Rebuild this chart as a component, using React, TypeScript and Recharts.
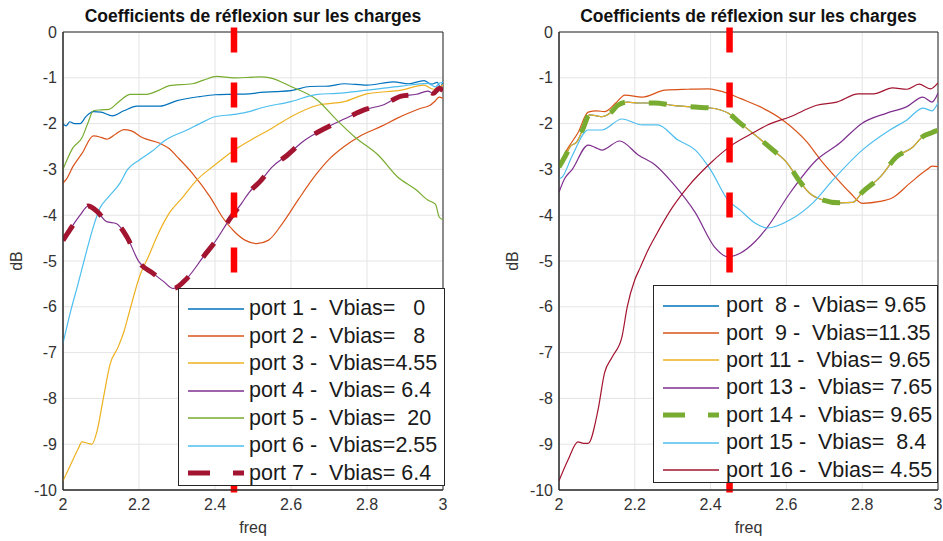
import { CartesianGrid, Label, Line, LineChart, ReferenceArea, ReferenceLine, XAxis, YAxis } from "recharts";

type Pt = [number, number];

const freqTicks = [2, 2.2, 2.4, 2.6, 2.8, 3];
const dbTicks = [-10, -9, -8, -7, -6, -5, -4, -3, -2, -1, 0];
const markerFreq = 2.45;
const titleText = "Coefficients de réflexion sur les charges";

// left panel, ports 1..7 (freq GHz, dB)
const port1: Pt[] = [
  [2.0, -2.0], [2.008, -2.05], [2.018, -1.96], [2.03, -2.0], [2.045, -2.0], [2.06, -1.85],
  [2.08, -1.74], [2.1, -1.75], [2.13, -1.83], [2.16, -1.72], [2.195, -1.62], [2.225, -1.62],
  [2.255, -1.62], [2.3, -1.5], [2.36, -1.41], [2.4, -1.37], [2.448, -1.36], [2.49, -1.35],
  [2.52, -1.32], [2.56, -1.3], [2.6, -1.28], [2.65, -1.19], [2.7, -1.18], [2.74, -1.13],
  [2.8, -1.16], [2.87, -1.09], [2.91, -1.13], [2.95, -1.06], [2.97, -1.14], [2.985, -1.1],
  [2.993, -1.2], [3.0, -1.08],
];
const port2: Pt[] = [
  [2.0, -3.3], [2.01, -3.2], [2.026, -2.94], [2.05, -2.65], [2.08, -2.27], [2.1, -2.3],
  [2.115, -2.34], [2.14, -2.22], [2.16, -2.13], [2.18, -2.16], [2.21, -2.31], [2.255, -2.43],
  [2.28, -2.55], [2.3, -2.72], [2.34, -3.08], [2.387, -3.6], [2.42, -4.05], [2.45, -4.35],
  [2.48, -4.55], [2.51, -4.62], [2.54, -4.55], [2.58, -4.15], [2.62, -3.65], [2.667, -3.1],
  [2.7, -2.78], [2.74, -2.5], [2.78, -2.28], [2.84, -2.05], [2.88, -1.88], [2.91, -1.77],
  [2.94, -1.67], [2.966, -1.6], [2.98, -1.5], [2.99, -1.42], [3.0, -1.45],
];
const port3: Pt[] = [
  [2.0, -9.8], [2.02, -9.45], [2.04, -9.1], [2.05, -8.95], [2.065, -8.98], [2.076, -9.0],
  [2.09, -8.7], [2.105, -8.05], [2.124, -7.25], [2.145, -6.88], [2.16, -6.55], [2.176, -6.07],
  [2.203, -5.3], [2.225, -4.9], [2.247, -4.47], [2.28, -3.95], [2.316, -3.6], [2.35, -3.25],
  [2.4, -2.9], [2.45, -2.58], [2.5, -2.33], [2.55, -2.1], [2.6, -1.85], [2.67, -1.6],
  [2.74, -1.52], [2.8, -1.35], [2.89, -1.27], [2.95, -1.16], [2.975, -1.25], [3.0, -1.15],
];
const port4: Pt[] = [
  [2.0, -4.55], [2.018, -4.32], [2.045, -4.0], [2.066, -3.8], [2.09, -3.92], [2.115, -4.14],
  [2.14, -4.18], [2.168, -4.47], [2.2, -5.02], [2.237, -5.27], [2.265, -5.45], [2.29, -5.6],
  [2.326, -5.38], [2.37, -4.9], [2.4, -4.58], [2.44, -4.07], [2.47, -3.74], [2.49, -3.5],
  [2.52, -3.25], [2.55, -2.95], [2.59, -2.69], [2.63, -2.4], [2.69, -2.1], [2.74, -1.9],
  [2.8, -1.68], [2.84, -1.6], [2.89, -1.4], [2.93, -1.36], [2.96, -1.29], [2.975, -1.34],
  [2.99, -1.23], [3.0, -1.28],
];
const port5: Pt[] = [
  [2.0, -3.0], [2.01, -2.8], [2.026, -2.53], [2.05, -2.31], [2.065, -2.0], [2.08, -1.72],
  [2.1, -1.7], [2.12, -1.69], [2.15, -1.5], [2.177, -1.36], [2.22, -1.36], [2.25, -1.28],
  [2.28, -1.17], [2.34, -1.13], [2.37, -1.05], [2.405, -0.97], [2.45, -1.0], [2.49, -0.99],
  [2.52, -0.98], [2.545, -1.0], [2.6, -1.19], [2.67, -1.49], [2.72, -1.92], [2.77, -2.31],
  [2.83, -2.69], [2.88, -3.16], [2.93, -3.45], [2.96, -3.67], [2.98, -3.76], [2.99, -4.04],
  [3.0, -4.1],
];
const port6: Pt[] = [
  [2.0, -6.8], [2.02, -6.1], [2.04, -5.49], [2.06, -4.85], [2.08, -4.25], [2.097, -3.85],
  [2.12, -3.6], [2.15, -3.3], [2.17, -3.0], [2.2, -2.8], [2.235, -2.6], [2.27, -2.36],
  [2.326, -2.14], [2.36, -2.0], [2.4, -1.85], [2.45, -1.8], [2.49, -1.74], [2.52, -1.66],
  [2.6, -1.52], [2.67, -1.36], [2.72, -1.34], [2.8, -1.27], [2.89, -1.18], [2.96, -1.12],
  [2.98, -1.2], [2.99, -1.12], [3.0, -1.1],
];
const port7 = port4;

// right panel, ports 8..16
const port8: Pt[] = [
  [2.0, -2.95], [2.016, -2.72], [2.03, -2.5], [2.047, -2.4], [2.064, -2.1], [2.08, -1.81],
  [2.1, -1.83], [2.113, -1.85], [2.135, -1.77], [2.155, -1.6], [2.18, -1.53], [2.21, -1.55],
  [2.253, -1.55], [2.3, -1.6], [2.36, -1.64], [2.4, -1.66], [2.446, -1.77], [2.478, -1.99],
  [2.51, -2.2], [2.565, -2.58], [2.6, -2.84], [2.636, -3.27], [2.66, -3.51], [2.697, -3.67],
  [2.74, -3.73], [2.775, -3.72], [2.8, -3.5], [2.847, -3.17], [2.89, -2.73], [2.934, -2.51],
  [2.96, -2.28], [2.98, -2.21], [3.0, -2.14],
];
const port9: Pt[] = [
  [2.0, -2.9], [2.024, -2.53], [2.05, -2.2], [2.077, -1.75], [2.1, -1.72], [2.12, -1.74],
  [2.15, -1.55], [2.174, -1.38], [2.22, -1.42], [2.28, -1.27], [2.34, -1.25], [2.393, -1.24],
  [2.446, -1.34], [2.478, -1.45], [2.53, -1.63], [2.59, -1.92], [2.654, -2.4], [2.69, -2.79],
  [2.72, -3.08], [2.768, -3.51], [2.8, -3.74], [2.847, -3.7], [2.88, -3.62], [2.926, -3.3],
  [2.97, -3.01], [2.985, -2.93], [3.0, -2.94],
];
const port11 = port8;
const port13: Pt[] = [
  [2.0, -3.5], [2.015, -3.2], [2.034, -3.01], [2.077, -2.47], [2.095, -2.52], [2.113, -2.58],
  [2.16, -2.38], [2.21, -2.69], [2.253, -2.9], [2.3, -3.3], [2.36, -3.95], [2.41, -4.69],
  [2.446, -4.91], [2.478, -4.83], [2.517, -4.58], [2.55, -4.26], [2.61, -3.51], [2.68, -2.79],
  [2.74, -2.43], [2.8, -1.99], [2.865, -1.77], [2.918, -1.63], [2.96, -1.42], [2.984, -1.53],
  [3.0, -1.34],
];
const port14 = port8;
const port15: Pt[] = [
  [2.0, -3.2], [2.008, -3.17], [2.034, -2.72], [2.077, -2.14], [2.113, -2.14], [2.166, -1.9],
  [2.22, -2.03], [2.26, -2.03], [2.314, -2.36], [2.36, -2.58], [2.4, -3.01], [2.446, -3.67],
  [2.478, -3.89], [2.517, -4.17], [2.55, -4.28], [2.61, -4.1], [2.67, -3.73], [2.723, -3.23],
  [2.8, -2.58], [2.873, -2.14], [2.918, -1.92], [2.96, -1.66], [2.984, -1.72], [3.0, -1.55],
];
const port16: Pt[] = [
  [2.0, -9.8], [2.024, -9.34], [2.05, -8.95], [2.065, -8.98], [2.077, -8.98], [2.103, -8.25],
  [2.12, -7.45], [2.14, -7.1], [2.166, -6.66], [2.18, -6.0], [2.2, -5.41], [2.214, -5.15],
  [2.235, -4.76], [2.253, -4.48], [2.3, -3.82], [2.34, -3.38], [2.4, -2.86], [2.456, -2.47],
  [2.517, -2.18], [2.55, -2.03], [2.61, -1.85], [2.68, -1.6], [2.733, -1.53], [2.79, -1.35],
  [2.83, -1.35], [2.88, -1.22], [2.918, -1.25], [2.95, -1.14], [2.98, -1.24], [3.0, -1.11],
];

const leftLabels = [
  "port 1 -  Vbias=   0",
  "port 2 -  Vbias=   8",
  "port 3 -  Vbias=4.55",
  "port 4 -  Vbias= 6.4",
  "port 5 -  Vbias=  20",
  "port 6 -  Vbias=2.55",
  "port 7 -  Vbias= 6.4",
];
const rightLabels = [
  "port  8 -  Vbias= 9.65",
  "port  9 -  Vbias=11.35",
  "port 11 -  Vbias= 9.65",
  "port 13 -  Vbias= 7.65",
  "port 14 -  Vbias= 9.65",
  "port 15 -  Vbias=  8.4",
  "port 16 -  Vbias= 4.55",
];

const FONT = "'Liberation Sans', Arial, Helvetica, sans-serif";
const INK = "#262626";

interface Series {
  label: string;
  pts: Pt[];
  color: string;
  width: number;
  dash?: string;
}

const leftSeries: Series[] = [
  { label: leftLabels[0], pts: port1, color: "#0072BD", width: 1.2 },
  { label: leftLabels[1], pts: port2, color: "#D95319", width: 1.2 },
  { label: leftLabels[2], pts: port3, color: "#EDB120", width: 1.2 },
  { label: leftLabels[3], pts: port4, color: "#7E2F8E", width: 1.2 },
  { label: leftLabels[4], pts: port5, color: "#77AC30", width: 1.2 },
  { label: leftLabels[5], pts: port6, color: "#4DBEEE", width: 1.2 },
  { label: leftLabels[6], pts: port7, color: "#A2142F", width: 5, dash: "18 24" },
];

const rightSeries: Series[] = [
  { label: rightLabels[0], pts: port8, color: "#0072BD", width: 1.2 },
  { label: rightLabels[1], pts: port9, color: "#D95319", width: 1.2 },
  { label: rightLabels[2], pts: port11, color: "#EDB120", width: 1.2 },
  { label: rightLabels[3], pts: port13, color: "#7E2F8E", width: 1.2 },
  { label: rightLabels[4], pts: port14, color: "#77AC30", width: 5, dash: "18 24" },
  { label: rightLabels[5], pts: port15, color: "#4DBEEE", width: 1.2 },
  { label: rightLabels[6], pts: port16, color: "#A2142F", width: 1.2 },
];

const toPoints = (pts: Pt[]) => pts.map(([f, v]) => ({ f, v }));
const fmtFreq = (v: number) => String(Math.round(v * 10) / 10);

interface PanelProps {
  series: Series[];
  left: number;
  width: number;
  axisWidth: number;
  rightGap: number;
  legend: { x: number; y: number; w: number; h: number; textX: number };
}

const Panel = ({ series, left, width, axisWidth, rightGap, legend }: PanelProps) => {
  const plotWidth = width - axisWidth - rightGap;
  return (
    <div style={{ position: "absolute", left, top: 0, width, height: 541 }}>
      <LineChart
        width={width}
        height={541}
        margin={{ top: 32, right: rightGap, bottom: 21, left: 0 }}
      >
        <CartesianGrid stroke="#e4e4e4" />
        <XAxis
          dataKey="f"
          type="number"
          domain={[2, 3]}
          ticks={freqTicks}
          tickFormatter={fmtFreq}
          allowDataOverflow
          height={30}
          tickLine={false}
          tickSize={0}
          tickMargin={9}
          stroke={INK}
          tick={{ fill: "#333", fontSize: 16, fontFamily: FONT }}
        >
          <Label value="freq" position="bottom" offset={2} fill="#333" fontSize={16} fontFamily={FONT} />
        </XAxis>
        <YAxis
          type="number"
          domain={[-10, 0]}
          ticks={dbTicks}
          allowDataOverflow
          width={axisWidth}
          tickLine={false}
          tickSize={0}
          tickMargin={6}
          stroke={INK}
          tick={{ fill: "#333", fontSize: 16, fontFamily: FONT }}
        />
        {series.map((s) => (
          <Line
            key={s.label}
            data={toPoints(s.pts)}
            dataKey="v"
            type="monotone"
            stroke={s.color}
            strokeWidth={s.width}
            strokeDasharray={s.dash}
            dot={false}
            activeDot={false}
            isAnimationActive={false}
          />
        ))}
        <ReferenceArea x1={2} x2={3} y1={-10} y2={0} fill="none" stroke={INK} strokeWidth={1} />
        <ReferenceLine
          segment={[
            { x: markerFreq, y: 0.1 },
            { x: markerFreq, y: -10.07 },
          ]}
          ifOverflow="visible"
          stroke="#FF0000"
          strokeWidth={6.5}
          strokeDasharray="25 30"
        />
      </LineChart>

      <div
        style={{
          position: "absolute",
          left: axisWidth,
          width: plotWidth,
          top: 6,
          textAlign: "center",
          fontFamily: FONT,
          fontWeight: "bold",
          fontSize: 17.5,
          color: "#111",
          whiteSpace: "nowrap",
        }}
      >
        {titleText}
      </div>

      <div
        style={{
          position: "absolute",
          left: axisWidth - 46,
          top: 261,
          transform: "translate(-50%, -50%) rotate(-90deg)",
          fontFamily: FONT,
          fontSize: 16,
          color: "#333",
        }}
      >
        dB
      </div>

      <div
        style={{
          position: "absolute",
          left: legend.x,
          top: legend.y,
          width: legend.w,
          height: legend.h,
          boxSizing: "border-box",
          border: `1.3px solid ${INK}`,
          background: "#fff",
          fontFamily: FONT,
          fontSize: 21.5,
          color: "#1a1a1a",
        }}
      >
        {series.map((s, i) => (
          <div
            key={s.label}
            style={{
              position: "absolute",
              left: 0,
              top: 6 + i * 27.4,
              height: 27.4,
              width: "100%",
              display: "flex",
              alignItems: "center",
            }}
          >
            <svg width={60} height={10} style={{ position: "absolute", left: 9 }}>
              <line
                x1={0}
                x2={56}
                y1={5}
                y2={5}
                stroke={s.color}
                strokeWidth={s.dash ? 5 : 1.5}
                strokeDasharray={s.dash ? "22 23" : undefined}
              />
            </svg>
            <span style={{ position: "absolute", left: legend.textX, whiteSpace: "pre", lineHeight: "27px" }}>
              {s.label}
            </span>
          </div>
        ))}
      </div>
    </div>
  );
};

export default function App() {
  return (
    <div style={{ position: "absolute", left: 0, top: 0, width: 943, height: 541, background: "#fff" }}>
      <Panel
        series={leftSeries}
        left={0}
        width={470}
        axisWidth={63}
        rightGap={27}
        legend={{ x: 178, y: 288, w: 267, h: 198, textX: 70 }}
      />
      <Panel
        series={rightSeries}
        left={470}
        width={473}
        axisWidth={89}
        rightGap={5}
        legend={{ x: 183, y: 285, w: 285, h: 198, textX: 72 }}
      />
    </div>
  );
}
